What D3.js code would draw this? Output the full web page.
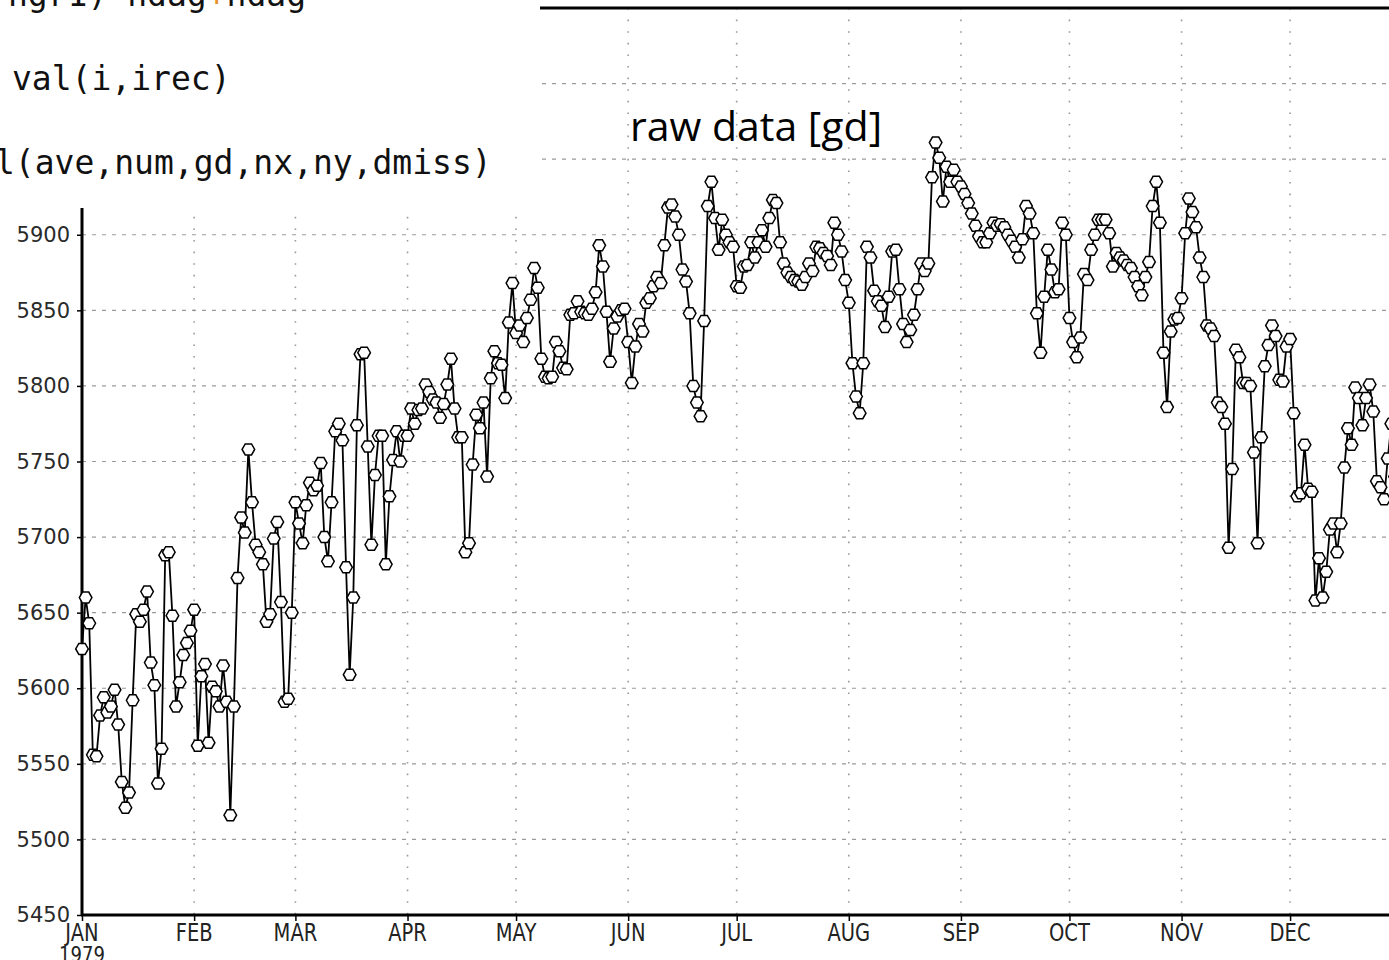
<!DOCTYPE html>
<html>
<head>
<meta charset="utf-8">
<script src="https://cdn.jsdelivr.net/npm/d3@7"></script>
<style>
  html, body { margin: 0; padding: 0; background: #fff; }
  svg { display: block; }
</style>
</head>
<body>
<svg id="chart" width="1389" height="960"></svg>
<script>
// ---- data: daily values, 1979 ----
const jan = [5626,5660,5643,5556,5555,5582,5594,5584,5588,5599,5576,5538,5521,5531,5592,5649,5644,5652,5664,5617,5602,5537,5560,5688,5690,5648,5588,5604,5622,5630,5638];
const feb = [5652,5562,5608,5616,5564,5601,5598,5588,5615,5591,5516,5588,5673,5713,5703,5758,5723,5695,5690,5682,5644,5649,5699,5710,5657,5591,5593,5650];
const mar = [5723,5709,5696,5721,5736,5731,5734,5749,5700,5684,5723,5770,5775,5764,5680,5609,5660,5774,5821,5822,5760,5695,5741,5767,5767,5682,5727,5751,5770,5750,5767];
const apr = [5767,5785,5775,5784,5785,5801,5796,5791,5789,5779,5788,5801,5818,5785,5766,5766,5690,5696,5748,5781,5772,5789,5740,5805,5823,5815,5814,5792,5842,5868];
const may = [5835,5840,5829,5845,5857,5878,5865,5818,5806,5805,5806,5829,5823,5812,5811,5847,5848,5856,5849,5848,5847,5851,5862,5893,5879,5849,5816,5838,5846,5850,5851];
const jun = [5829,5802,5826,5841,5836,5855,5858,5866,5872,5868,5893,5918,5920,5912,5900,5877,5869,5848,5800,5789,5780,5843,5919,5935,5911,5890,5910,5900,5895,5892];
const jul = [5866,5865,5879,5880,5895,5885,5895,5903,5892,5911,5923,5921,5895,5881,5875,5872,5870,5869,5867,5872,5881,5876,5892,5891,5888,5886,5880,5908,5900,5889,5870];
const aug = [5855,5815,5793,5782,5815,5892,5885,5863,5856,5853,5839,5859,5889,5890,5864,5841,5829,5837,5847,5864,5881,5876,5881,5938,5961,5951,5922,5945,5935,5943,5935];
const sep = [5932,5927,5921,5914,5906,5899,5895,5895,5901,5908,5906,5907,5905,5900,5896,5892,5885,5897,5919,5914,5901,5848,5822,5859,5890,5877,5862,5864,5908,5900];
const oct = [5845,5829,5819,5832,5874,5870,5890,5900,5910,5910,5910,5901,5879,5888,5885,5883,5880,5878,5872,5866,5860,5872,5882,5919,5935,5908,5822,5786,5836,5844,5845];
const nov = [5858,5901,5924,5915,5905,5885,5872,5840,5838,5833,5789,5786,5775,5693,5745,5824,5819,5802,5802,5800,5756,5696,5766,5813,5827,5840,5833,5804,5803,5826];
const dec = [5831,5782,5727,5729,5761,5732,5730,5658,5686,5660,5677,5705,5709,5690,5709,5746,5772,5761,5799,5792,5774,5792,5801,5783,5737,5733,5725,5752,5775,5740,5745];

const monthLabels = ["JAN","FEB","MAR","APR","MAY","JUN","JUL","AUG","SEP","OCT","NOV","DEC"];
const yearLabel = "1979";
const yTicks = [5450,5500,5550,5600,5650,5700,5750,5800,5850,5900];
const yGrid  = [5500,5550,5600,5650,5700,5750,5800,5850,5900,5950,6000];
const titleText = "raw data [gd]";
const codeLines = [
  [["ngr1)",""],["*","o"],["ndag",""],["+","o"],["ndag",""]],
  [["val(i,irec)",""]],
  [["l(ave,num,gd,nx,ny,dmiss)",""]]
];

// ---- build ----
const values = [].concat(jan,feb,mar,apr,may,jun,jul,aug,sep,oct,nov,dec);
const start = new Date(Date.UTC(1979,0,1));
const data = values.map((v,i)=>({date: d3.utcDay.offset(start,i), value: v}));

const svg = d3.select("#chart");
svg.append("rect").attr("width",1389).attr("height",960).attr("fill","#fff");

const x = d3.scaleUtc()
  .domain([start, new Date(Date.UTC(1980,0,1))])
  .range([82, 82 + 365*3.617]);
const y = d3.scaleLinear().domain([5450, 6050]).range([915, 8]);

const monthDates = d3.utcMonth.range(start, new Date(Date.UTC(1980,0,1)));

// grid
const grid = svg.append("g");
grid.selectAll("line.h").data(yGrid).join("line")
  .attr("x1", 82).attr("x2", 1389)
  .attr("y1", d=>y(d)).attr("y2", d=>y(d))
  .attr("stroke","#9a9a9a").attr("stroke-width",1.2)
  .attr("stroke-dasharray","4,6");
grid.selectAll("line.v").data(monthDates.slice(1)).join("line")
  .attr("x1", d=>x(d)).attr("x2", d=>x(d))
  .attr("y1", y(6050)).attr("y2", y(5450))
  .attr("stroke","#9a9a9a").attr("stroke-width",1.6)
  .attr("stroke-dasharray","1.6,10");

// axes
const yAxis = d3.axisLeft(y).tickValues(yTicks).tickSize(5).tickPadding(7).tickFormat(d3.format("d"));
const gy = svg.append("g").attr("transform","translate(82,0)").call(yAxis);
gy.select(".domain").remove();
gy.selectAll(".tick line").attr("stroke","#000").attr("stroke-width",1.5);
gy.selectAll(".tick text")
  .attr("font-family","DejaVu Sans, sans-serif")
  .attr("font-size",21).attr("fill","#2a2a2a");

const xAxis = d3.axisBottom(x).tickValues(monthDates).tickSize(6).tickFormat("");
const gx = svg.append("g").attr("transform","translate(0,915)").call(xAxis);
gx.select(".domain").remove();
gx.selectAll(".tick line").attr("stroke","#000").attr("stroke-width",1.5);

// axis lines
svg.append("line").attr("x1",82).attr("x2",82).attr("y1",y(6050)).attr("y2",y(5450)+1)
  .attr("stroke","#000").attr("stroke-width",3);
svg.append("line").attr("x1",81).attr("x2",1389).attr("y1",y(5450)).attr("y2",y(5450))
  .attr("stroke","#000").attr("stroke-width",3);
svg.append("line").attr("x1",82).attr("x2",1389).attr("y1",y(6050)).attr("y2",y(6050))
  .attr("stroke","#000").attr("stroke-width",3);

// month labels
const xl = svg.append("g");
monthDates.forEach((d,i)=>{
  xl.append("text")
    .attr("transform",`translate(${x(d)},941) scale(0.78,1)`)
    .attr("text-anchor","middle")
    .attr("font-family","DejaVu Sans, sans-serif")
    .attr("font-size",25).attr("fill","#222")
    .text(monthLabels[i]);
});
xl.append("text")
  .attr("transform",`translate(${x(monthDates[0])},962) scale(0.82,1)`)
  .attr("text-anchor","middle")
  .attr("font-family","DejaVu Sans, sans-serif")
  .attr("font-size",22).attr("fill","#222")
  .text(yearLabel);

// series line + markers
const line = d3.line().x(d=>x(d.date)).y(d=>y(d.value));
svg.append("path").datum(data).attr("d", line)
  .attr("fill","none").attr("stroke","#000").attr("stroke-width",1.8)
  .attr("stroke-linejoin","round");

const rx = 6.3, ry = 5.5;
const hex = `M${-rx},0L${-rx/2},${-ry}L${rx/2},${-ry}L${rx},0L${rx/2},${ry}L${-rx/2},${ry}Z`;
svg.append("g").selectAll("path").data(data).join("path")
  .attr("transform", d=>`translate(${x(d.date)},${y(d.value)})`)
  .attr("d", hex)
  .attr("fill","#fff").attr("stroke","#000").attr("stroke-width",1.5);

// title label
svg.append("text").attr("x",630).attr("y",141)
  .attr("font-family","Open Sans, sans-serif").attr("font-size",41)
  .attr("fill","#000").text(titleText);

// code overlay (screenshot fragment)
const ov = svg.append("g");
ov.append("rect").attr("x",0).attr("y",0).attr("width",540).attr("height",208).attr("fill","#fff");
const codeX = [8, 12, -5];
const codeY = [6, 90, 174];
codeLines.forEach((parts,i)=>{
  const t = ov.append("text").attr("x",codeX[i]).attr("y",codeY[i])
    .attr("font-family","DejaVu Sans Mono, monospace").attr("font-size",33)
    .attr("fill","#111").attr("xml:space","preserve");
  parts.forEach(p=>{
    t.append("tspan").attr("fill", p[1]==="o" ? "#e8902a" : "#111").text(p[0]);
  });
});
</script>
</body>
</html>
